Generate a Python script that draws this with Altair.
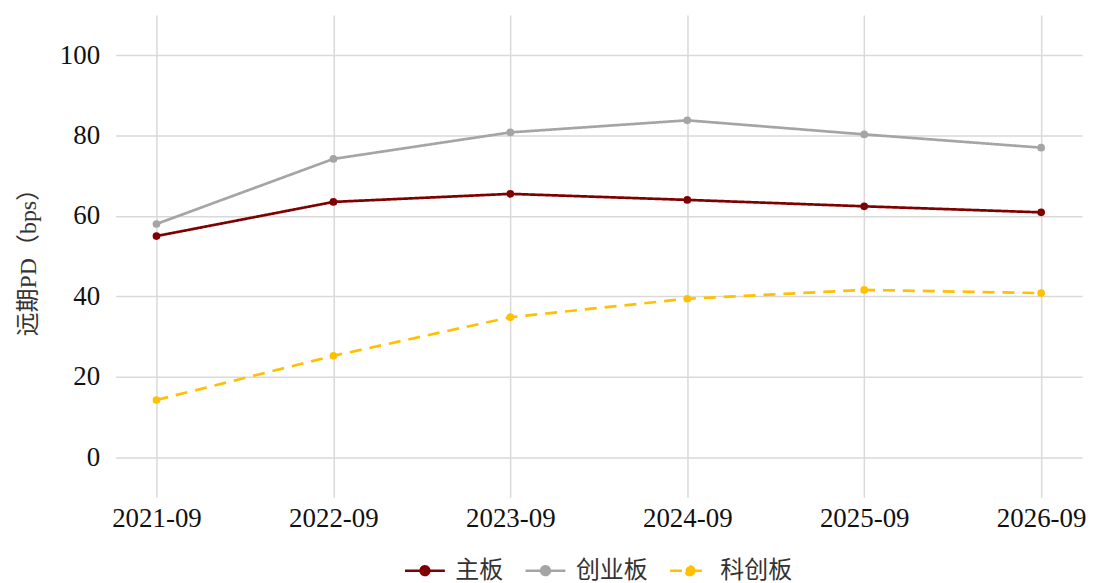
import altair as alt
import pandas as pd

dates = ["2021-09", "2022-09", "2023-09", "2024-09", "2025-09", "2026-09"]
series_names = ["主板", "创业板", "科创板"]
main_board = [55.0, 63.5, 65.5, 64.0, 62.4, 60.9]
chinext = [58.0, 74.2, 80.8, 83.8, 80.3, 77.0]
star = [14.2, 25.2, 34.8, 39.4, 41.6, 40.8]
colors = ["#7F0000", "#A5A5A5", "#FFC000"]
dashes = [[1, 0], [1, 0], [12, 8]]

rows = []
for name, vals in zip(series_names, [main_board, chinext, star]):
    for d, v in zip(dates, vals):
        rows.append({"date": d, "series": name, "value": v})
df = pd.DataFrame(rows)

SERIF = "'Times New Roman', 'Liberation Serif', serif"
MIXED = "'Times New Roman', 'Liberation Serif', 'Noto Sans CJK SC', serif"

legend = alt.Legend(
    title=None,
    orient="none",
    legendX=289,
    legendY=536,
    direction="horizontal",
    symbolType="M-1,0H1M0.22,0A0.22,0.22 0 1,1 -0.22,0A0.22,0.22 0 1,1 0.22,0",
    symbolSize=1600,
    symbolStrokeWidth=2.5,
    labelFont=MIXED,
    labelFontSize=24,
    labelFontWeight="normal",
    labelColor="#333333",
    labelOffset=9,
    columnPadding=17,
)

x = alt.X("date:O", sort=dates, scale=alt.Scale(type="point", padding=0.231),
          axis=alt.Axis(title=None, labelAngle=0, labelPadding=8, ticks=False, domain=False,
                        grid=True, labelFont=SERIF, labelFontSize=27, labelColor="#111111"))
y = alt.Y("value:Q", scale=alt.Scale(domain=[-10, 110], nice=False, zero=False),
          axis=alt.Axis(title="远期PD（bps）", values=[0, 20, 40, 60, 80, 100], ticks=False,
                        domain=False, labelPadding=16, titlePadding=19,
                        labelFont=SERIF, labelFontSize=27, labelColor="#111111",
                        titleFont=MIXED, titleFontSize=24, titleFontWeight="normal",
                        titleColor="#333333"))
color = alt.Color("series:N", sort=series_names,
                  scale=alt.Scale(domain=series_names, range=colors), legend=legend)
dash = alt.StrokeDash("series:N", sort=series_names,
                      scale=alt.Scale(domain=series_names, range=dashes), legend=legend)

base = alt.Chart(df)
lines = base.mark_line(strokeWidth=2.7).encode(x=x, y=y, color=color, strokeDash=dash)
points = base.mark_point(filled=True, size=60, opacity=1).encode(x=x, y=y, color=color)

chart = alt.layer(lines, points).properties(
    width=970,
    height=484,
    padding={"left": 8, "top": 6, "right": 0, "bottom": 0},
).configure_view(
    stroke=None,
).configure_axis(
    gridColor="#D9D9D9",
    gridWidth=1.5,
)

chart.save("out.html", embed_options={"renderer": "svg", "actions": False})
